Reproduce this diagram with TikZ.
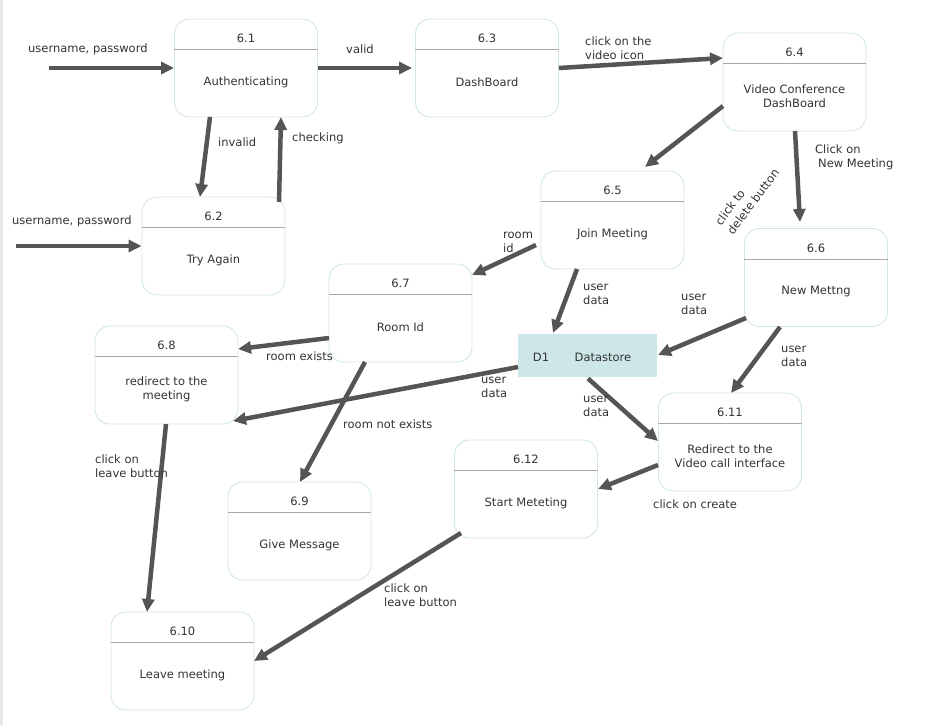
\documentclass[tikz,border=0pt]{standalone}
\usepackage{fontspec}
\setmainfont{DejaVu Sans}
\usetikzlibrary{arrows.meta,calc}
\definecolor{edgec}{HTML}{555555}
\definecolor{boxc}{HTML}{D2E6EA}
\definecolor{divc}{HTML}{A8A8A8}
\definecolor{txtc}{HTML}{333333}
\definecolor{storec}{HTML}{CDE7E8}
\newcommand\mkproc[5]{%
  \node[procbox] (#1) at (#2,#3) {};
  \draw[divc, line width=0.9pt] ([yshift=-31pt]#1.north west) -- ([yshift=-31pt]#1.north east);
  \node at ([yshift=-20pt]#1.north) {#4};
  \node[align=center] at ([yshift=-14pt]#1.center) {#5};
}
\begin{document}
\begin{tikzpicture}[x=1pt,y=-1pt,
  font=\fontsize{11.5}{14}\selectfont, text=txtc,
  procbox/.style={draw=boxc, line width=0.9pt, rounded corners=15pt, minimum width=143pt, minimum height=98pt, inner sep=0pt},
  storebox/.style={fill=storec, minimum width=139pt, minimum height=43pt, inner sep=0pt},
  flow/.style={draw=edgec, line width=4.5pt, -{Triangle[length=13pt,width=12pt]}},
  lbl/.style={anchor=west, align=left, inner sep=0pt, yshift=-1.2pt},
]
\useasboundingbox (0,0) rectangle (952,726);
\fill[gray!18] (0,0) rectangle (2.5,726);

\mkproc{n61}{246}{68}{6.1}{Authenticating}
\mkproc{n63}{487}{68}{6.3}{DashBoard}
\mkproc{n64}{794.5}{82}{6.4}{Video Conference\\DashBoard}
\mkproc{n62}{213.5}{246}{6.2}{Try Again}
\mkproc{n65}{612.5}{220}{6.5}{Join Meeting}
\mkproc{n66}{816}{277.5}{6.6}{New Mettng}
\mkproc{n67}{400.5}{313}{6.7}{Room Id}
\mkproc{n68}{166.5}{375}{6.8}{redirect to the\\meeting}
\mkproc{n611}{730}{442}{6.11}{Redirect to the\\Video call interface}
\mkproc{n612}{526}{489}{6.12}{Start Meteting}
\mkproc{n69}{299.5}{531}{6.9}{Give Message}
\mkproc{n610}{182.5}{661}{6.10}{Leave meeting}

\node[storebox] (d1) at (587.5,355.5) {};
\node at ([xshift=-46.5pt,yshift=-1.5pt]d1.center) {D1};
\node at ([xshift=15.5pt,yshift=-1.5pt]d1.center) {Datastore};

\coordinate (s1) at (49,68);
\coordinate (s2) at (16,246);

\draw[flow] (s1) -- (n61.west);
\draw[flow] (n61.east) -- ([xshift=-3pt]n63.west);
\draw[flow] (n63.east) -- ([shift={(-71.5,-24)}]n64.center);
\draw[flow] ([shift={(-36,49)}]n61.center) -- ([shift={(-13.5,-49)}]n62.center);
\draw[flow] ([shift={(65.5,-44)}]n62.center) -- ([shift={(35,49)}]n61.center);
\draw[flow] (s2) -- (n62.west);
\draw[flow] ([shift={(-71.5,24)}]n64.center) -- ([shift={(32.5,-53)}]n65.center);
\draw[flow] ([shift={(0.5,49)}]n64.center) -- ([shift={(-16,-55.5)}]n66.center);
\draw[flow] ([shift={(-76.5,25)}]n65.center) -- ([shift={(71.5,-38)}]n67.center);
\draw[flow] ([shift={(-35.5,49)}]n65.center) -- ([shift={(-34.5,-22.5)}]d1.center);
\draw[flow] ([shift={(-70,40.5)}]n66.center) -- ([shift={(70.5,-0.5)}]d1.center);
\draw[flow] ([shift={(-36,49.5)}]n66.center) -- ([shift={(1,-49)}]n611.center);
\draw[flow] ([shift={(0.5,23)}]d1.center) -- ([shift={(-72,-1)}]n611.center);
\draw[flow] ([shift={(-69.5,11.5)}]d1.center) -- ([shift={(66.5,46)}]n68.center);
\draw[flow] ([shift={(-71.5,25)}]n67.center) -- ([shift={(71.5,-26)}]n68.center);
\draw[flow] ([shift={(-35.5,49)}]n67.center) -- ([shift={(0.5,-49)}]n69.center);
\draw[flow] ([shift={(-0.5,49)}]n68.center) -- ([shift={(-35.5,-49)}]n610.center);
\draw[flow] ([shift={(-72,23)}]n611.center) -- ([shift={(72,0)}]n612.center);
\draw[flow] ([shift={(-65,44)}]n612.center) -- ([shift={(71.5,0)}]n610.center);

\node[lbl] (l1) at (28,48) {username, password};
\node[lbl] (l2) at (346,48) {valid};
\node[lbl] (l3) at (585,47) {click on the\\video icon};
\node[lbl] (l4) at (218,141) {invalid};
\node[lbl] (l5) at (292,137) {checking};
\node[lbl] (l6) at (12,220) {username, password};
\node[lbl] (l7) at (815,156) {Click on\\\hspace{3pt}New Meeting};
\node[align=left, inner sep=0pt, rotate=53, font=\fontsize{11.5}{15}\selectfont] (l8) at (747,197) {click to\\delete button};
\node[lbl] (l9) at (503,241) {room\\id};
\node[lbl] (l10) at (583,293) {user\\data};
\node[lbl] (l11) at (681,303.5) {user\\data};
\node[lbl] (l12) at (781,355.5) {user\\data};
\node[lbl] (l13) at (583,405) {user\\data};
\node[lbl] (l14) at (481,386) {user\\data};
\node[lbl] (l15) at (266,355) {room exists};
\node[lbl] (l16) at (343,423) {room not exists};
\node[lbl] (l17) at (95,465) {click on\\leave button};
\node[lbl] (l18) at (653,503) {click on create};
\node[lbl] (l19) at (384,594.5) {click on\\leave button};
\end{tikzpicture}
\end{document}
